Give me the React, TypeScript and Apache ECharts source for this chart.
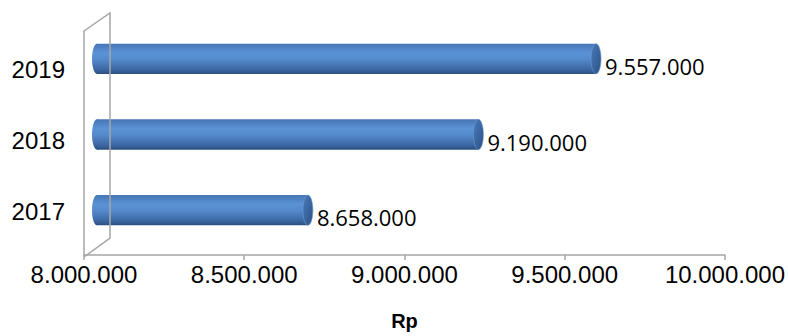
import React, { useEffect, useRef } from "react";
import * as echarts from "echarts";

const years = ["2017", "2018", "2019"];
const values = [8658000, 9190000, 9557000];
const axisMin = 8000000;
const axisMax = 10000000;
const axisStep = 500000;
const axisTitle = "Rp";

const fmt = (v: number) => String(Math.round(v)).replace(/\B(?=(\d{3})+(?!\d))/g, ".");

export default function App() {
  const ref = useRef<HTMLDivElement>(null);
  useEffect(() => {
    if (!ref.current) return;
    const chart = echarts.init(ref.current, undefined, { renderer: "svg" });
    const gray = "#a6a6a6";
    const bodyGrad = new echarts.graphic.LinearGradient(0, 0, 0, 1, [
      { offset: 0, color: "#4676b6" },
      { offset: 0.3, color: "#5a92d5" },
      { offset: 0.5, color: "#558bcd" },
      { offset: 0.85, color: "#3b67a3" },
      { offset: 1, color: "#2c4f80" },
    ]);
    const capGrad = new echarts.graphic.LinearGradient(0, 0, 1, 1, [
      { offset: 0, color: "#4a7bbb" },
      { offset: 1, color: "#2c5184" },
    ]);
    chart.setOption({
      animation: false,
      grid: [
        { left: 84, right: 63, top: 31, bottom: 79 },
        { left: 97, right: 50, top: 21, bottom: 88 },
        { left: 84, right: 63, top: 33.5, bottom: 89.5 },
      ],
      xAxis: [
        {
          gridIndex: 0,
          type: "value",
          min: axisMin,
          max: axisMax,
          interval: axisStep,
          axisLine: { show: true, lineStyle: { color: gray, width: 1.5 } },
          axisTick: { show: true, length: 5, lineStyle: { color: gray, width: 1.5 } },
          splitLine: { show: false },
          axisLabel: {
            formatter: (v: number) => fmt(v),
            color: "#000",
            fontFamily: "'Liberation Sans', Arial, sans-serif",
            fontSize: 24,
            margin: 7,
          },
          name: axisTitle,
          nameLocation: "middle",
          nameGap: 56,
          nameTextStyle: {
            color: "#000",
            fontFamily: "'Liberation Sans', Arial, sans-serif",
            fontSize: 20,
            fontWeight: "bold",
          },
        },
        { gridIndex: 1, type: "value", min: axisMin, max: axisMax, show: false },
        { gridIndex: 2, type: "value", min: axisMin, max: axisMax, show: false },
      ],
      yAxis: [
        {
          gridIndex: 0,
          type: "category",
          data: years,
          axisLine: { show: true, lineStyle: { color: gray, width: 1.5 } },
          axisTick: { show: false },
          axisLabel: { show: false },
        },
        { gridIndex: 1, type: "category", data: years, show: false },
        {
          gridIndex: 2,
          type: "category",
          data: years,
          axisLine: { show: false },
          axisTick: { show: false },
          axisLabel: {
            color: "#000",
            fontFamily: "'Liberation Sans', Arial, sans-serif",
            fontSize: 24,
            margin: 19,
          },
        },
      ],
      series: [
        {
          type: "custom",
          xAxisIndex: 1,
          yAxisIndex: 1,
          encode: { x: 0, y: 1 },
          data: values.map((v, i) => [v, i]),
          renderItem: (params: any, api: any) => {
            const v = api.value(0);
            const c = api.value(1);
            const s = api.coord([axisMin, c]);
            const e = api.coord([v, c]);
            const h = api.size([0, 1])[1] * 0.4;
            const rx = 5;
            const top = s[1] - h / 2;
            return {
              type: "group",
              children: [
                {
                  type: "ellipse",
                  shape: { cx: s[0], cy: s[1], rx, ry: h / 2 },
                  style: { fill: bodyGrad },
                },
                {
                  type: "rect",
                  shape: { x: s[0], y: top, width: e[0] - s[0], height: h },
                  style: { fill: bodyGrad },
                },
                {
                  type: "ellipse",
                  shape: { cx: e[0], cy: e[1], rx, ry: h / 2 },
                  style: { fill: capGrad, stroke: "#6f9bd2", lineWidth: 0.6 },
                },
                {
                  type: "text",
                  x: e[0] + 9,
                  y: e[1] + 7,
                  style: {
                    text: fmt(v),
                    fill: "#000",
                    font: "22px 'Open Sans', 'Noto Sans', sans-serif",
                    verticalAlign: "middle",
                    align: "left",
                  },
                },
              ],
            };
          },
        },
      ],
      graphic: [
        {
          type: "polyline",
          z: 100,
          shape: { points: [[84, 31], [110, 13], [110, 238], [84, 257]] },
          style: { stroke: gray, lineWidth: 1.5, fill: "none" },
        },
      ],
    });
    return () => chart.dispose();
  }, []);
  return (
    <div
      ref={ref}
      style={{ position: "absolute", left: 0, top: 0, width: 788, height: 336 }}
    />
  );
}
